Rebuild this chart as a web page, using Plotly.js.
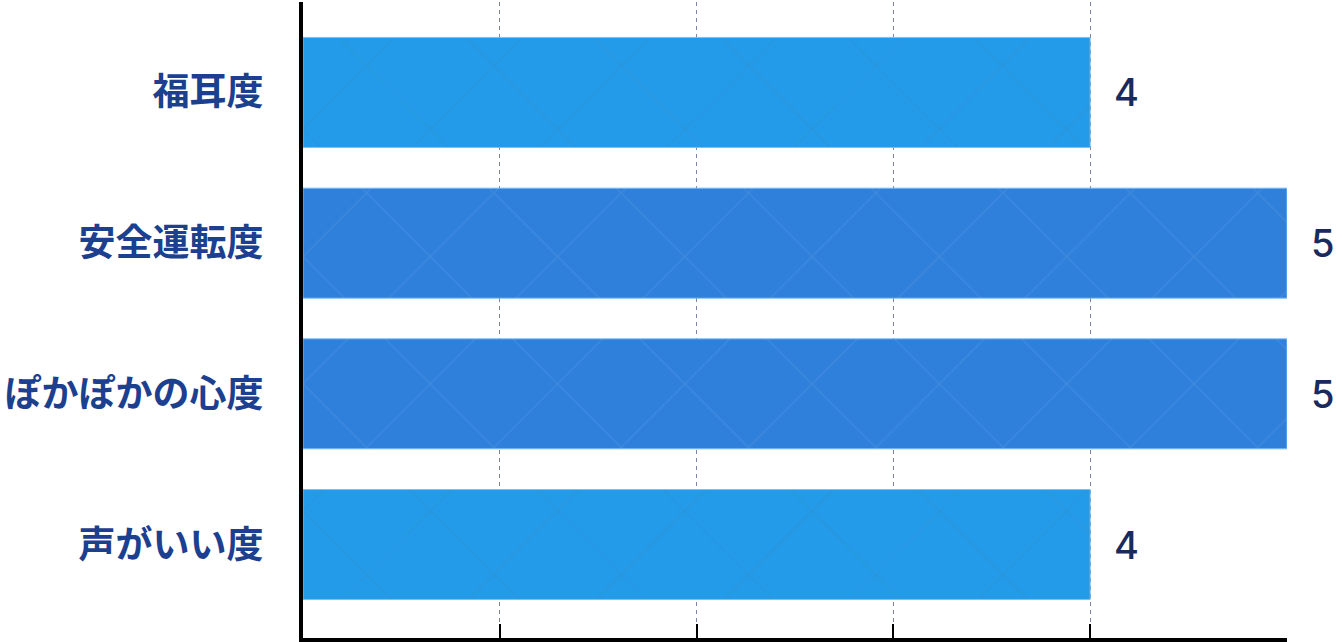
<!DOCTYPE html>
<html>
<head>
<meta charset="utf-8">
<script src="https://cdn.plot.ly/plotly-3.0.1.min.js"></script>
<style>html,body{margin:0;padding:0;background:#fff;}#chart{width:1342px;height:642px;}</style>
</head>
<body>
<div id="chart"></div>
<script>
const categories = ["福耳度", "安全運転度", "ぽかぽかの心度", "声がいい度"];
const values = [4, 5, 5, 4];
const xTicks = [0, 1, 2, 3, 4, 5];

const barColors = ["#249be8", "#2f80db", "#2f80db", "#249be8"];

const trace = {
  type: "bar",
  orientation: "h",
  y: categories,
  x: values,
  width: 0.73,
  marker: {
    color: barColors,
    line: {color: "rgba(120,190,250,0.9)", width: 1},
    pattern: {shape: "x", size: 90, solidity: 0.03, fgcolor: "#ffffff", fgopacity: 0.07, fillmode: "overlay"}
  },
  hoverinfo: "none",
  cliponaxis: false
};

const annotations = categories.map((c, i) => ({
  x: values[i], y: c, xref: "x", yref: "y",
  text: String(values[i]), showarrow: false,
  xanchor: "left", yanchor: "middle", xshift: 22,
  font: {family: "Inter, Roboto, sans-serif", size: 38, color: "#1b2a5c", weight: 500}
}));

const layout = {
  width: 1342, height: 642,
  margin: {l: 303, r: 55, t: 2, b: 4},
  paper_bgcolor: "#ffffff", plot_bgcolor: "#ffffff",
  showlegend: false,
  bargap: 0.27,
  xaxis: {
    range: [0, 5.0001],
    tickvals: xTicks,
    showticklabels: false,
    ticks: "inside", ticklen: 14, tickwidth: 2, tickcolor: "#000000",
    showgrid: true, gridcolor: "#7d86a6", gridwidth: 1.3, griddash: "4px,4px",
    zeroline: false,
    showline: true, linecolor: "#000000", linewidth: 4
  },
  yaxis: {
    type: "category",
    categoryorder: "array", categoryarray: categories,
    range: [3.62, -0.60],
    showgrid: false, zeroline: false,
    showline: true, linecolor: "#000000", linewidth: 4,
    ticks: "", ticklabelstandoff: 28,
    tickfont: {family: "'Noto Sans CJK JP', 'Noto Sans', sans-serif", size: 37, color: "#1d3f8f", weight: 700}
  },
  annotations: annotations
};

Plotly.newPlot("chart", [trace], layout, {staticPlot: true, displayModeBar: false});
</script>
</body>
</html>
